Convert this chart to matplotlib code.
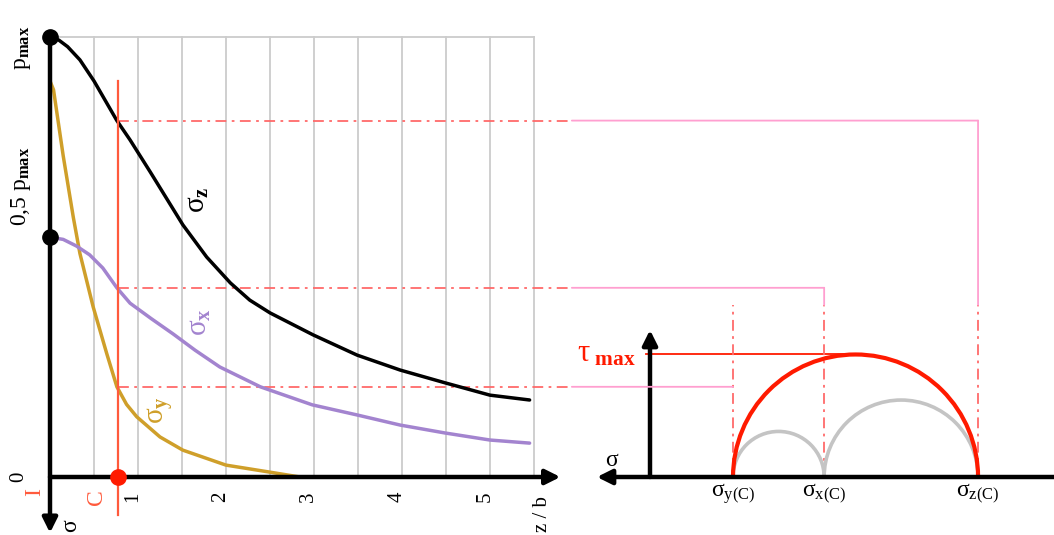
import matplotlib
matplotlib.use("Agg")
import matplotlib.pyplot as plt
from matplotlib.patches import Arc, ConnectionPatch
from matplotlib.transforms import blended_transform_factory

plt.rcParams["font.family"] = ["Liberation Serif", "DejaVu Serif"]
plt.rcParams["mathtext.fontset"] = "custom"
plt.rcParams["mathtext.rm"] = "Liberation Serif"
plt.rcParams["mathtext.it"] = "Liberation Serif:italic"
plt.rcParams["mathtext.bf"] = "Liberation Serif:bold"

# stresses below the contact, in units of p_max, against depth z/b
z_sz = [0, 0.1, 0.2, 0.34, 0.5, 0.76, 0.91, 1.14, 1.51, 1.78, 2.05, 2.27, 2.5, 2.99, 3.49, 3.98, 4.49, 5.0, 5.45]
sig_z = [1.0, 0.993, 0.978, 0.948, 0.9, 0.81, 0.766, 0.693, 0.573, 0.5, 0.441, 0.402, 0.373, 0.323, 0.277, 0.243, 0.214, 0.186, 0.175]

z_sx = [0, 0.15, 0.3, 0.45, 0.6, 0.76, 0.91, 1.15, 1.4, 1.65, 1.93, 2.39, 2.98, 3.49, 3.98, 4.49, 5.0, 5.45]
sig_x = [0.545, 0.54, 0.525, 0.505, 0.475, 0.43, 0.395, 0.36, 0.325, 0.288, 0.25, 0.205, 0.164, 0.141, 0.118, 0.1, 0.084, 0.077]

z_sy = [0, 0.04, 0.15, 0.265, 0.34, 0.49, 0.644, 0.76, 0.87, 0.985, 1.25, 1.51, 2.0, 2.5, 2.84, 5.45]
sig_y = [0.9, 0.88, 0.73, 0.59, 0.508, 0.387, 0.281, 0.205, 0.165, 0.137, 0.091, 0.061, 0.027, 0.011, 0.0, 0.0]

# point C and the principal stresses there
z_C = 0.77
sC_z, sC_x, sC_y = 0.81, 0.43, 0.205

z_ticks = [1, 2, 3, 4, 5]
z_grid = [0.5, 1.0, 1.5, 2.0, 2.5, 3.0, 3.5, 4.0, 4.5, 5.0, 5.5]

BLACK = "black"
PURPLE = "#a384cf"
GOLD = "#cf9f2a"
RED = "#ff1a00"
CRED = "#ff5a3c"
DASHRED = "#ff6a6a"
PINK = "#ff9fd0"
GRAY = "#cccccc"
DASHDOT = (0, (6, 3, 1.5, 3))

fig = plt.figure(figsize=(10.54, 5.35), dpi=100)
axL = fig.add_axes([0, 0, 580 / 1054, 1])
axR = fig.add_axes([580 / 1054, 0, 474 / 1054, 1])
for ax in (axL, axR):
    ax.set_axis_off()

axL.set_xlim(-50 / 88, 530 / 88)
axL.set_ylim(-58 / 440, 477 / 440)
axR.set_xlim(-70 / 405, 404 / 405)
axR.set_ylim(-58 / 405, 477 / 405)

# ---------- left: stresses versus depth ----------
for zg in z_grid:
    axL.plot([zg, zg], [0, 1.0], color=GRAY, lw=1.3, zorder=1)
axL.plot([0, z_grid[-1]], [1.0, 1.0], color=GRAY, lw=1.3, zorder=1)

arrow_kw = dict(arrowstyle="-|>", color=BLACK, lw=3.2, mutation_scale=22,
                shrinkA=0, shrinkB=0)
axL.annotate("", xy=(5.8, 0), xytext=(0, 0), arrowprops=arrow_kw, zorder=6)
axL.annotate("", xy=(0, -0.127), xytext=(0, 1.0), arrowprops=arrow_kw, zorder=6)

curve_kw = dict(lw=2.5, solid_capstyle="round", solid_joinstyle="round")
axL.plot(z_sy, sig_y, color=GOLD, zorder=3, **curve_kw)
axL.plot(z_sx, sig_x, color=PURPLE, zorder=3, **curve_kw)
axL.plot(z_sz, sig_z, color=BLACK, zorder=4, **curve_kw)

axL.plot([0, 0], [sig_z[0], sig_x[0]], "o", color=BLACK, ms=11, zorder=7)

# depth of point C
axL.plot([z_C, z_C], [-0.086, 0.9], color=CRED, lw=1.6, zorder=5)
axL.plot([z_C], [0], "o", color=RED, ms=11, zorder=8)

z_break = 5.93
for s in (sC_z, sC_x, sC_y):
    axL.plot([z_C, z_break], [s, s], color=DASHRED, lw=1.3, ls=DASHDOT, zorder=2)

# labels (rotated like the depth axis)
rot = dict(rotation=90, ha="center", va="center")
for zt in z_ticks:
    axL.text(zt - 0.06, -0.045, str(zt), fontsize=15, **rot)
axL.text(-0.36, 0.0, "0", fontsize=15, **rot)
axL.text(-0.17, -0.035, "I", fontsize=17, color=CRED, **rot)
axL.text(z_C - 0.24, -0.045, "C", fontsize=17, color=CRED, **rot)
axL.text(0.23, -0.11, "σ", fontsize=17, **rot)
axL.text(5.6, -0.085, "z / b", fontsize=15, **rot)
axL.text(-0.31, 0.975, r"$\mathrm{p}_{\mathbf{max}}$", fontsize=17, **rot)
axL.text(-0.33, sig_x[0] + 0.115, r"$\mathrm{0{,}5\ p}_{\mathbf{max}}$", fontsize=17, **rot)
axL.text(1.68, 0.63, r"$\mathrm{\sigma}_{\mathbf{z}}$", fontsize=21, color=BLACK, **rot)
axL.text(1.71, 0.352, r"$\mathrm{\sigma}_{\mathbf{x}}$", fontsize=21, color=PURPLE, **rot)
axL.text(1.25, 0.152, r"$\mathrm{\sigma}_{\mathbf{y}}$", fontsize=21, color=GOLD, **rot)

# ---------- right: Mohr circles at C ----------
axR.annotate("", xy=(-0.131, 0), xytext=(1.0, 0), arrowprops=arrow_kw, zorder=6)
axR.annotate("", xy=(0, 0.363), xytext=(0, 0), arrowprops=arrow_kw, zorder=6)

def half_circle(a, b, color, lw, z):
    c = 0.5 * (a + b)
    d = abs(b - a)
    axR.add_patch(Arc((c, 0), d, d, theta1=0, theta2=180, color=color, lw=lw, zorder=z))

half_circle(sC_y, sC_x, "#c4c4c4", 2.6, 3)
half_circle(sC_x, sC_z, "#c4c4c4", 2.6, 3)
half_circle(sC_y, sC_z, RED, 3.0, 4)

tau_max = 0.5 * (sC_z - sC_y)
axR.plot([-0.01, 0.5 * (sC_y + sC_z)], [tau_max, tau_max], color=RED, lw=1.3, zorder=2)

tau_top = 0.425
for s in (sC_y, sC_x, sC_z):
    axR.plot([s, s], [0, tau_top], color=DASHRED, lw=1.3, ls=DASHDOT, zorder=2)

# pink leaders from the curve values at C to the Mohr axis
blend = blended_transform_factory(axR.transData, axL.transData)
for s in (sC_z, sC_x, sC_y):
    fig.add_artist(ConnectionPatch(xyA=(z_break, s), coordsA=axL.transData,
                                   xyB=(s, s), coordsB=blend,
                                   color=PINK, lw=1.3, zorder=2))
for s in (sC_z, sC_x):
    fig.add_artist(ConnectionPatch(xyA=(s, s), coordsA=blend,
                                   xyB=(s, tau_top), coordsB=axR.transData,
                                   color=PINK, lw=1.3, zorder=2))

axR.text(-0.095, 0.04, "σ", fontsize=17, ha="center", va="center")
axR.text(-0.035, tau_max, r"$\mathrm{\tau}_{\ \mathbf{max}}$", fontsize=22, color=RED,
         ha="right", va="center")
for s, sub in ((sC_y, "y(C)"), (sC_x, "x(C)"), (sC_z, "z(C)")):
    axR.text(s, -0.042, r"$\mathrm{\sigma}_{\mathrm{" + sub + "}}$", fontsize=17,
             ha="center", va="center")

fig.savefig("out.png", dpi=100)
